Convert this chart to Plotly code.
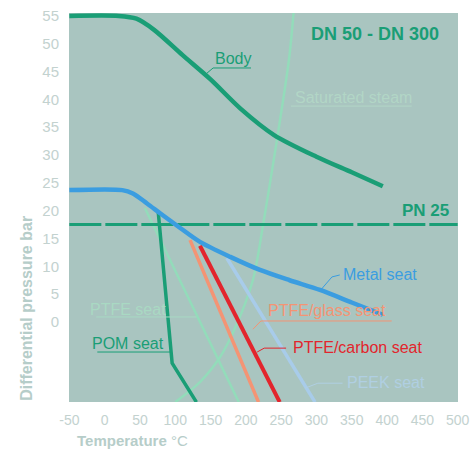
import plotly.graph_objects as go

# ---------------- data ----------------
body_t = [-50, 20, 45, 70, 110, 150, 192, 240, 300, 350, 394]
body_p = [55, 55, 54.5, 52.5, 48, 43.6, 38.4, 33.6, 29.7, 26.9, 24.4]

metal_t = [-50, 25, 40, 60, 79, 107, 135, 178, 220, 262, 305, 350, 394]
metal_p = [23.7, 23.7, 23.1, 21.3, 19.5, 16.9, 14.4, 11.7, 9.35, 7.5, 5.75, 3.5, 1.3]

steam_t = [100, 135, 163.5, 184.7, 210, 224.3, 261, 268.5]
steam_p = [-14.4, -10.8, -6.3, -1.1, 7.55, 17.4, 47.1, 57]

pom_t = [76, 95.6, 130]
pom_p = [19.6, -7.4, -14.4]

ptfe_t = [57, 190]
ptfe_p = [20.5, -14.4]

glass_t = [121, 218]
glass_p = [14.7, -14.4]

carbon_t = [135, 248]
carbon_p = [13.7, -14.4]

peek_t = [173, 298]
peek_p = [11.5, -14.4]

pn25 = 17.5

x_ticks = list(range(-50, 501, 50))
x_labels = [str(v) for v in x_ticks]
y_ticks = list(range(0, 56, 5))

# ---------------- style ----------------
BG = "#a9c5c0"
GREEN = "#1a9e76"
BLUE = "#3b9de0"
MINT = "#93dcba"
SALMON = "#f49474"
RED = "#e2252d"
PEEK = "#a8ccea"
TICK = "#c3d2cf"
TITLE = "#b6cdc9"
FONT = "Liberation Sans, Arial, sans-serif"

fig = go.Figure()

def add(t, p, color, width, shape="linear", dash=None, smoothing=None):
    line = dict(color=color, width=width, shape=shape, dash=dash)
    if smoothing is not None:
        line["smoothing"] = smoothing
    fig.add_trace(go.Scatter(x=t, y=p, mode="lines", line=line,
                             hoverinfo="skip", showlegend=False))

add(steam_t, steam_p, MINT, 2.5, "spline", smoothing=0.8)
add(ptfe_t, ptfe_p, MINT, 2.5)
add([-50, 500], [pn25, pn25], GREEN, 3, dash="32px,4px")
add(peek_t, peek_p, PEEK, 3.5)
add(glass_t, glass_p, SALMON, 3.5)
add(carbon_t, carbon_p, RED, 4)
add(pom_t, pom_p, GREEN, 3.5)
add(metal_t, metal_p, BLUE, 4.5, "spline", smoothing=0.8)
add(body_t, body_p, GREEN, 4.5, "spline", smoothing=0.8)

# ---------------- labels ----------------
def label(text, x, y, color, size=16, bold=False, xanchor="left"):
    fig.add_annotation(x=x, y=y, text=f"<b>{text}</b>" if bold else text,
                       showarrow=False, xanchor=xanchor, yanchor="middle",
                       font=dict(family=FONT, size=size, color=color))

def seg(xs, ys, color, width=1):
    for i in range(len(xs) - 1):
        fig.add_shape(type="line", x0=xs[i], y0=ys[i], x1=xs[i + 1], y1=ys[i + 1],
                      xref="x", yref="y", line=dict(color=color, width=width))

label("DN 50 - DN 300", 476, 51.7, GREEN, size=18, bold=True, xanchor="right")
label("PN 25", 491, 20.1, GREEN, size=17, bold=True, xanchor="right")

label("Body", 153.6, 47.4, GREEN)
seg([142, 153.6, 207.3], [44.4, 45.65, 45.65], GREEN)

label("Saturated steam", 266.7, 40.4, "#b2d6c6")
seg([263.9, 435], [38.8, 38.8], "#b2d6c6")

label("Metal seat", 334.6, 8.45, BLUE)
seg([305, 322, 333], [5.6, 8.1, 8.45], BLUE)

label("PTFE/glass seat", 228.5, 2.0, SALMON)
seg([210, 221.3, 406.6], [-1.3, 0.18, 0.18], SALMON)

label("PTFE/carbon seat", 263.9, -4.5, RED)
seg([216, 226, 257], [-5.4, -4.7, -4.7], RED)

label("PEEK seat", 340, -10.8, "#b0cfe2")
seg([283.7, 302, 337], [-11.9, -11.0, -11.0], "#b0cfe2")

label("PTFE seat", -23.1, 2.2, "#a9d9c3")
seg([-12, 130], [0.9, 0.9], "#a9d9c3")

label("POM seat", -20.3, -3.8, GREEN)
seg([-10.4, 92.8], [-5.4, -5.4], GREEN)

# axis titles
fig.add_annotation(xref="paper", yref="paper", x=0.0154, y=-0.10,
                   text="<b>Temperature</b> °C", showarrow=False,
                   xanchor="left", yanchor="middle",
                   font=dict(family=FONT, size=15, color=TITLE))
fig.add_annotation(xref="paper", yref="paper", x=-0.108, y=0.242,
                   text="<b>Differential pressure bar</b>", showarrow=False,
                   textangle=-90, xanchor="center", yanchor="middle",
                   font=dict(family=FONT, size=16, color=TITLE))

fig.update_layout(
    width=471, height=456,
    margin=dict(l=69, r=13, t=13, b=54, autoexpand=False),
    paper_bgcolor="white", plot_bgcolor=BG,
    font=dict(family=FONT),
    xaxis=dict(range=[-50.5, 500.5], tickvals=x_ticks, ticktext=x_labels,
               showgrid=False, zeroline=False,
               showline=False, ticks="outside", ticklen=5, tickcolor="rgba(0,0,0,0)",
               automargin=False, ticklabeloverflow="allow",
               tickfont=dict(family=FONT, size=14, color=TICK)),
    yaxis=dict(range=[-14.38, 55.53], tickvals=y_ticks, showgrid=False, zeroline=False,
               showline=False, ticks="outside", ticklen=6, tickcolor="rgba(0,0,0,0)",
               automargin=False, ticklabeloverflow="allow",
               tickfont=dict(family=FONT, size=15, color=TICK)),
)

fig.write_html(
    "out.html",
    config={"displayModeBar": False, "staticPlot": True},
    post_script="document.body.style.margin='0';"
                "document.documentElement.style.overflow='hidden';",
)
